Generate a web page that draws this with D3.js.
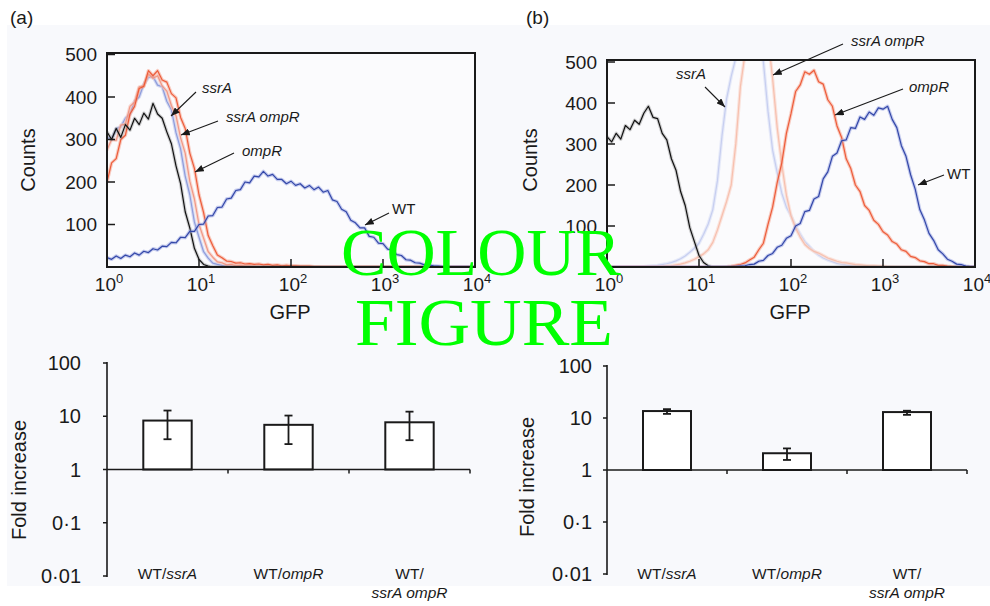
<!DOCTYPE html>
<html><head><meta charset="utf-8">
<script src="https://cdn.jsdelivr.net/npm/d3@7"></script>
<style>
body{margin:0;background:#fff}
svg{display:block}
text{font-family:"Liberation Sans",Arial,Helvetica,sans-serif;fill:#1a1a1a}
</style>
</head><body>
<svg id="c" width="990" height="606"></svg>
<script>
// ---------- DATA ----------
// GFP channel positions (log10 of fluorescence), 0.05-decade bins
const gfpExp = [
0,0.05,0.1,0.15,0.2,0.25,0.3,0.35,0.4,0.45,
0.5,0.55,0.6,0.65,0.7,0.75,0.8,0.85,0.9,0.95,
1,1.05,1.1,1.15,1.2,1.25,1.3,1.35,1.4,1.45,
1.5,1.55,1.6,1.65,1.7,1.75,1.8,1.85,1.9,1.95,
2,2.05,2.1,2.15,2.2,2.25,2.3,2.35,2.4,2.45,
2.5,2.55,2.6,2.65,2.7,2.75,2.8,2.85,2.9,2.95,
3,3.05,3.1,3.15,3.2,3.25,3.3,3.35,3.4,3.45,
3.5,3.55,3.6,3.65,3.7,3.75,3.8,3.85,3.9,3.95,
4];
const countTicks = [100,200,300,400,500];
const gfpTicks = [1,10,100,1000,10000];
const gfpTickExp = ["0","1","2","3","4"];

// Panel (a) histogram counts
const blackA = [
318,300,326,305,335,322,350,335,362,348,
385,360,350,318,290,238,196,130,92,44,
18,6,2,0,0,0,0,0,0,0,
0,0,0,0,0,0,0,0,0,0,
0,0,0,0,0,0,0,0,0,0,
0,0,0,0,0,0,0,0,0,0,
0,0,0,0,0,0,0,0,0,0,
0,0,0,0,0,0,0,0,0,0,
0];
const ssrA_A = [
305,300,325,330,350,360,390,400,430,446,
448,428,424,390,370,316,278,214,170,106,
70,36,21,9,6,4,3,2,1,0,
0,0,0,0,0,0,0,0,0,0,
0,0,0,0,0,0,0,0,0,0,
0,0,0,0,0,0,0,0,0,0,
0,0,0,0,0,0,0,0,0,0,
0,0,0,0,0,0,0,0,0,0,
0];
const ssrAompR_A = [
275,300,298,334,336,378,388,424,426,454,
444,450,426,414,380,356,304,268,202,160,
100,68,36,23,12,10,5,6,3,4,
2,2,1,0,0,0,0,0,0,0,
0,0,0,0,0,0,0,0,0,0,
0,0,0,0,0,0,0,0,0,0,
0,0,0,0,0,0,0,0,0,0,
0,0,0,0,0,0,0,0,0,0,
0];
const ompR_A = [
200,245,255,300,310,360,378,420,425,462,
450,462,440,435,408,398,352,326,268,232,
170,128,74,50,28,22,14,13,9,10,
7,8,6,7,5,6,4,5,3,4,
3,3,2,2,2,1,1,0,0,0,
0,0,0,0,0,0,0,0,0,0,
0,0,0,0,0,0,0,0,0,0,
0,0,0,0,0,0,0,0,0,0,
0];
const wt_A = [
22,18,26,20,28,24,33,28,37,34,
43,40,49,48,58,57,70,69,84,84,
100,101,120,121,140,141,160,162,180,182,
200,198,214,212,225,214,218,206,206,196,
202,192,196,186,192,182,188,176,180,158,
154,136,130,110,104,92,92,72,70,56,
55,42,40,29,27,17,16,10,9,5,
5,3,2,1,0,0,0,0,0,0,
0];

// Panel (b) histogram counts
const blackB = [
318,305,326,312,345,335,358,348,375,392,
365,362,326,310,264,236,184,150,96,62,
28,11,3,0,0,0,0,0,0,0,
0,0,0,0,0,0,0,0,0,0,
0,0,0,0,0,0,0,0,0,0,
0,0,0,0,0,0,0,0,0,0,
0,0,0,0,0,0,0,0,0,0,
0,0,0,0,0,0,0,0,0,0,
0];
const ssrA_B = [
0,0,0,0,0,0,0,0,1,2,
3,4,6,8,11,15,20,27,36,46,
58,80,105,140,210,320,410,465,510,560,
620,650,620,560,500,380,285,230,180,146,
125,100,80,62,50,38,29,22,17,13,
9,7,5,4,3,2,1,0,0,0,
0,0,0,0,0,0,0,0,0,0,
0,0,0,0,0,0,0,0,0,0,
0];
const ssrAompR_B = [
0,0,0,0,0,0,0,0,0,0,
0,0,1,2,3,5,7,10,14,19,
25,32,42,60,90,125,160,200,300,440,
520,600,660,680,640,560,460,340,250,175,
125,95,73,55,45,38,34,28,22,18,
14,11,10,8,6,5,4,3,3,2,
2,1,1,0,0,0,0,0,0,0,
0,0,0,0,0,0,0,0,0,0,
0];
const ompR_B = [
0,0,0,0,0,0,0,0,0,0,
0,0,0,0,0,0,0,0,0,0,
0,0,0,0,0,0,1,2,4,6,
10,17,24,42,58,104,146,206,254,326,
374,428,444,476,470,480,452,446,408,392,
344,316,264,240,200,184,150,138,114,104,
86,78,62,56,42,38,26,23,15,13,
8,8,4,4,2,1,0,0,0,0,
0];
const wt_B = [
0,0,0,0,0,0,0,0,0,0,
0,0,0,0,0,0,0,0,0,0,
0,0,0,0,0,0,0,0,1,2,
3,6,7,14,16,28,33,48,53,70,
76,100,106,135,138,166,172,215,232,270,
278,308,310,340,338,366,360,378,370,388,
385,392,360,340,296,270,225,190,140,115,
82,65,42,32,19,14,7,6,2,1,
0];

// Bar charts (fold increase, log scale)
const barCats = ["WT/ssrA", "WT/ompR", "WT/ssrA ompR"];
const foldTicks = [100, 10, 1, 0.1, 0.01];
const foldTickLabels = ["100", "10", "1", "0·1", "0·01"];
const foldA = [8.3, 6.9, 7.7];
const foldA_lo = [3.7, 3.0, 3.55];
const foldA_hi = [12.8, 10.3, 12.2];
const foldB = [13.6, 2.1, 13.0];
const foldB_lo = [12.0, 1.56, 11.5];
const foldB_hi = [14.8, 2.6, 13.8];

// ---------- DRAW ----------
const svg = d3.select("#c");
svg.append("rect").attr("x",0).attr("y",0).attr("width",990).attr("height",606).attr("fill","#ffffff");
svg.append("rect").attr("x",7).attr("y",25).attr("width",983).attr("height",561).attr("fill","#f8f9fc");

const defs = svg.append("defs");
defs.append("marker").attr("id","arr").attr("viewBox","0 0 10 8")
  .attr("refX",10).attr("refY",4).attr("markerWidth",9).attr("markerHeight",7)
  .attr("markerUnits","userSpaceOnUse").attr("orient","auto")
  .append("path").attr("d","M0,0 L10,4 L0,8 Z").attr("fill","#1a1a1a");

function histPanel(id, cfg) {
  const g = svg.append("g");
  const x = d3.scaleLog().domain([1, 1e4]).range([cfg.x0, cfg.x1]);
  const y = d3.scaleLinear().domain([0, 500]).range([cfg.yb, cfg.y500]);
  defs.append("clipPath").attr("id","clip"+id).append("rect")
    .attr("x",cfg.x0).attr("y",cfg.ft).attr("width",cfg.x1-cfg.x0).attr("height",cfg.yb-cfg.ft);
  g.append("rect").attr("x",cfg.x0).attr("y",cfg.ft).attr("width",cfg.x1-cfg.x0).attr("height",cfg.yb-cfg.ft)
    .attr("fill","#fbfbfd");
  const lines = g.append("g").attr("clip-path","url(#clip"+id+")");
  const line = d3.line().x((d,i)=>x(Math.pow(10, gfpExp[i]))).y(d=>y(d));
  cfg.series.forEach(s => {
    lines.append("path").attr("d", line(s.data)).attr("fill","none")
      .attr("stroke", s.halo).attr("stroke-width", 3.4).attr("stroke-opacity", s.haloOp)
      .attr("stroke-linejoin","round");
    lines.append("path").attr("d", line(s.data)).attr("fill","none")
      .attr("stroke", s.color).attr("stroke-width", 1.2).attr("stroke-opacity", s.op)
      .attr("stroke-linejoin","round");
  });
  // frame
  g.append("rect").attr("x",cfg.x0).attr("y",cfg.ft).attr("width",cfg.x1-cfg.x0).attr("height",cfg.yb-cfg.ft)
    .attr("fill","none").attr("stroke","#1a1a1a").attr("stroke-width",2);
  // y ticks (inside) + labels
  countTicks.forEach(t => {
    g.append("line").attr("x1",cfg.x0).attr("x2",cfg.x0+8).attr("y1",y(t)).attr("y2",y(t))
      .attr("stroke","#1a1a1a").attr("stroke-width",1.5);
    g.append("text").attr("x",cfg.x0-10).attr("y",y(t)+6.5).attr("text-anchor","end")
      .attr("font-size",19).text(t);
  });
  // x ticks (inside) + labels
  gfpTicks.forEach((t,i) => {
    if (i>0 && i<gfpTicks.length-1)
      g.append("line").attr("x1",x(t)).attr("x2",x(t)).attr("y1",cfg.yb).attr("y2",cfg.yb-8)
        .attr("stroke","#1a1a1a").attr("stroke-width",1.5);
    const tx = g.append("text").attr("x",x(t)+2).attr("y",291).attr("text-anchor","middle").attr("font-size",19);
    tx.append("tspan").text("10");
    tx.append("tspan").attr("dy",-8).attr("font-size",13).text(gfpTickExp[i]);
  });
  g.append("text").attr("x",(cfg.x0+cfg.x1)/2-1).attr("y",319).attr("text-anchor","middle")
    .attr("font-size",20).text("GFP");
  g.append("text").attr("transform",`translate(${cfg.countsX},160) rotate(-90)`)
    .attr("text-anchor","middle").attr("font-size",20).text("Counts");
  // annotations
  cfg.notes.forEach(n => {
    g.append("text").attr("x",n.tx).attr("y",n.ty).attr("font-size",15)
      .attr("font-style", n.it ? "italic" : "normal").text(n.t);
    g.append("line").attr("x1",n.ax1).attr("y1",n.ay1).attr("x2",n.ax2).attr("y2",n.ay2)
      .attr("stroke","#1a1a1a").attr("stroke-width",1.1).attr("marker-end","url(#arr)");
  });
}

histPanel("a", {
  x0:107, x1:475, yb:267, y500:54.5, ft:53, countsX:35,
  series:[
    {data:ssrA_A, color:"#8796d8", halo:"#b9c3ec", op:0.9, haloOp:0.6},
    {data:ssrAompR_A, color:"#f0907c", halo:"#f7c2b5", op:0.9, haloOp:0.6},
    {data:ompR_A, color:"#ec5634", halo:"#f59a82", op:0.95, haloOp:0.5},
    {data:blackA, color:"#111111", halo:"#777777", op:1, haloOp:0.35},
    {data:wt_A, color:"#3347a8", halo:"#8f9be0", op:1, haloOp:0.5}
  ],
  notes:[
    {t:"ssrA", it:true, tx:202, ty:93, ax1:196, ay1:92, ax2:171, ay2:116},
    {t:"ssrA ompR", it:true, tx:226, ty:122, ax1:218, ay1:121, ax2:181, ay2:135},
    {t:"ompR", it:true, tx:242, ty:156, ax1:234, ay1:153, ax2:195, ay2:172},
    {t:"WT", it:false, tx:392, ty:214, ax1:389, ay1:213, ax2:365, ay2:225}
  ]
});

histPanel("b", {
  x0:607, x1:975, yb:267, y500:62, ft:60, countsX:537,
  series:[
    {data:ssrA_B, color:"#c3cbee", halo:"#dde2f6", op:0.9, haloOp:0.7},
    {data:ssrAompR_B, color:"#f6bba9", halo:"#fad8ce", op:0.9, haloOp:0.7},
    {data:ompR_B, color:"#ec5634", halo:"#f59a82", op:0.95, haloOp:0.5},
    {data:blackB, color:"#111111", halo:"#777777", op:1, haloOp:0.35},
    {data:wt_B, color:"#3347a8", halo:"#8f9be0", op:1, haloOp:0.5}
  ],
  notes:[
    {t:"ssrA", it:true, tx:676, ty:79, ax1:705, ay1:87, ax2:725, ay2:107},
    {t:"ssrA ompR", it:true, tx:851, ty:46, ax1:843, ay1:44, ax2:773, ay2:75},
    {t:"ompR", it:true, tx:909, ty:92, ax1:903, ay1:89, ax2:835, ay2:115},
    {t:"WT", it:false, tx:947, ty:179, ax1:944, ay1:175, ax2:918, ay2:185}
  ]
});

// panel letters
svg.append("text").attr("x",10).attr("y",24).attr("font-size",19).text("(a)");
svg.append("text").attr("x",526).attr("y",24).attr("font-size",19).text("(b)");

function barPanel(cfg) {
  const g = svg.append("g");
  const y = d3.scaleLog().domain([0.01, 100]).range([cfg.yBot, cfg.yTop]);
  const band = d3.scaleBand().domain(barCats).range([cfg.x0, cfg.x1]).padding(0);
  const bw = band.bandwidth()*0.4;
  // bars
  barCats.forEach((c,i) => {
    const cx = band(c) + band.bandwidth()/2;
    g.append("rect").attr("x",cx-bw/2).attr("y",y(cfg.vals[i])).attr("width",bw)
      .attr("height",y(1)-y(cfg.vals[i])).attr("fill","#ffffff").attr("stroke","#1a1a1a").attr("stroke-width",2);
    g.append("line").attr("x1",cx).attr("x2",cx).attr("y1",y(cfg.lo[i])).attr("y2",y(cfg.hi[i]))
      .attr("stroke","#1a1a1a").attr("stroke-width",1.8);
    [cfg.lo[i], cfg.hi[i]].forEach(v => g.append("line").attr("x1",cx-4).attr("x2",cx+4)
      .attr("y1",y(v)).attr("y2",y(v)).attr("stroke","#1a1a1a").attr("stroke-width",1.8));
  });
  // y axis
  g.append("line").attr("x1",cfg.x0).attr("x2",cfg.x0).attr("y1",y(100)-1).attr("y2",y(0.01)+1)
    .attr("stroke","#1a1a1a").attr("stroke-width",1.6);
  foldTicks.forEach((t,i) => {
    g.append("line").attr("x1",cfg.x0-4).attr("x2",cfg.x0).attr("y1",y(t)).attr("y2",y(t))
      .attr("stroke","#1a1a1a").attr("stroke-width",1.5);
    g.append("text").attr("x",cfg.labelRight).attr("y",y(t)+7).attr("text-anchor","end")
      .attr("font-size",20).text(foldTickLabels[i]);
  });
  // baseline axis at 1
  g.append("line").attr("x1",cfg.x0).attr("x2",cfg.x1).attr("y1",y(1)).attr("y2",y(1))
    .attr("stroke","#1a1a1a").attr("stroke-width",1.6);
  barCats.forEach(c => {
    const bx = band(c) + band.bandwidth();
    g.append("line").attr("x1",bx).attr("x2",bx).attr("y1",y(1)).attr("y2",y(1)+4)
      .attr("stroke","#1a1a1a").attr("stroke-width",1.5);
  });
  // category labels
  barCats.forEach((c,i) => {
    const cx = band(c) + band.bandwidth()/2;
    const parts = c.split("/");
    if (i < 2) {
      const t = g.append("text").attr("x",cx).attr("y",579).attr("text-anchor","middle").attr("font-size",15.5);
      t.append("tspan").text(parts[0] + "/");
      t.append("tspan").attr("font-style","italic").text(parts[1]);
    } else {
      g.append("text").attr("x",cx).attr("y",579).attr("text-anchor","middle").attr("font-size",15.5).text(parts[0]+"/");
      g.append("text").attr("x",cx).attr("y",598).attr("text-anchor","middle").attr("font-size",15.5)
        .attr("font-style","italic").text(parts[1]);
    }
  });
  g.append("text").attr("transform",`translate(${cfg.foldX},${cfg.foldY}) rotate(-90)`)
    .attr("text-anchor","middle").attr("font-size",20).text("Fold increase");
}

barPanel({x0:107, x1:470, yTop:363, yBot:576, vals:foldA, lo:foldA_lo, hi:foldA_hi,
  labelRight:81, foldX:26, foldY:480});
barPanel({x0:607, x1:967, yTop:366, yBot:574, vals:foldB, lo:foldB_lo, hi:foldB_hi,
  labelRight:592, foldX:534, foldY:477});

// watermark
svg.append("text").attr("x",481).attr("y",275).attr("text-anchor","middle")
  .style("font-family","'Liberation Serif','Times New Roman',serif").style("fill","#00ff00")
  .attr("font-size",68).attr("textLength",280).attr("lengthAdjust","spacingAndGlyphs").text("COLOUR");
svg.append("text").attr("x",484).attr("y",345).attr("text-anchor","middle")
  .style("font-family","'Liberation Serif','Times New Roman',serif").style("fill","#00ff00")
  .attr("font-size",68).attr("textLength",258).attr("lengthAdjust","spacingAndGlyphs").text("FIGURE");
</script>
</body></html>
